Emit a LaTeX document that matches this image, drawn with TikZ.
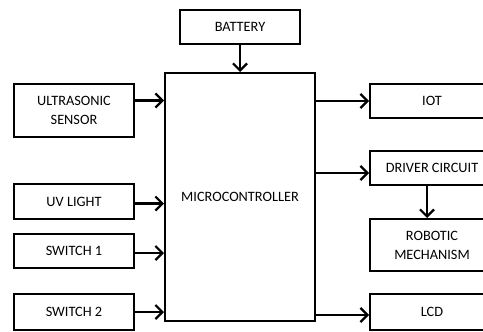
\documentclass[tikz,border=0pt]{standalone}
\usepackage{fontspec}
\setmainfont{Carlito}
\usetikzlibrary{arrows.meta}
\begin{document}
\begin{tikzpicture}[x=1pt, y=-1pt,
    >={Straight Barb[length=7pt, width=14pt]},
    blok/.style={draw, line width=2pt, align=center, inner sep=0pt,
        font=\fontsize{14.3}{19}\selectfont},
    link/.style={->, line width=2.2pt}]
    \useasboundingbox (0,0) rectangle (483,332);

    % central unit
    \node[blok, minimum width=150, minimum height=248] (mcu) at (240,197) {MICROCONTROLLER};
    \node[blok, minimum width=120, minimum height=34] (battery) at (240,27) {BATTERY};

    % inputs
    \node[blok, minimum width=120, minimum height=53] (ultra) at (74,110.5) {ULTRASONIC\\SENSOR};
    \node[blok, minimum width=120, minimum height=35] (uv) at (74,201.5) {UV LIGHT};
    \node[blok, minimum width=120, minimum height=34] (sw1) at (74,251) {SWITCH 1};
    \node[blok, minimum width=120, minimum height=36] (sw2) at (74,312) {SWITCH 2};

    % outputs (cut off by the right margin)
    \node[blok, minimum width=124, minimum height=34] (iot) at (432,101) {IOT};
    \node[blok, minimum width=124, minimum height=34] (driver) at (432,168) {DRIVER CIRCUIT};
    \node[blok, minimum width=124, minimum height=52] (robot) at (432,245) {ROBOTIC\\MECHANISM};
    \node[blok, minimum width=124, minimum height=36] (lcd) at (432,312) {LCD};

    % connectors
    \draw[link] (battery) -- (mcu);
    \draw[link] ([yshift=10]ultra.east) -- ([yshift=10]ultra.east -| mcu.west);
    \draw[link] ([yshift=-2]uv.east) -- ([yshift=-2]uv.east -| mcu.west);
    \draw[link] ([yshift=-2]sw1.east) -- ([yshift=-2]sw1.east -| mcu.west);
    \draw[link] (sw2.east) -- (sw2.east -| mcu.west);
    \draw[link] (iot.west -| mcu.east) -- (iot.west);
    \draw[link] ([yshift=-5]driver.west -| mcu.east) -- ([yshift=-5]driver.west);
    \draw[link] ([xshift=-5]driver.south) -- ([xshift=-5]robot.north);
    \draw[link] ([yshift=-3]lcd.west -| mcu.east) -- ([yshift=-3]lcd.west);
\end{tikzpicture}
\end{document}
